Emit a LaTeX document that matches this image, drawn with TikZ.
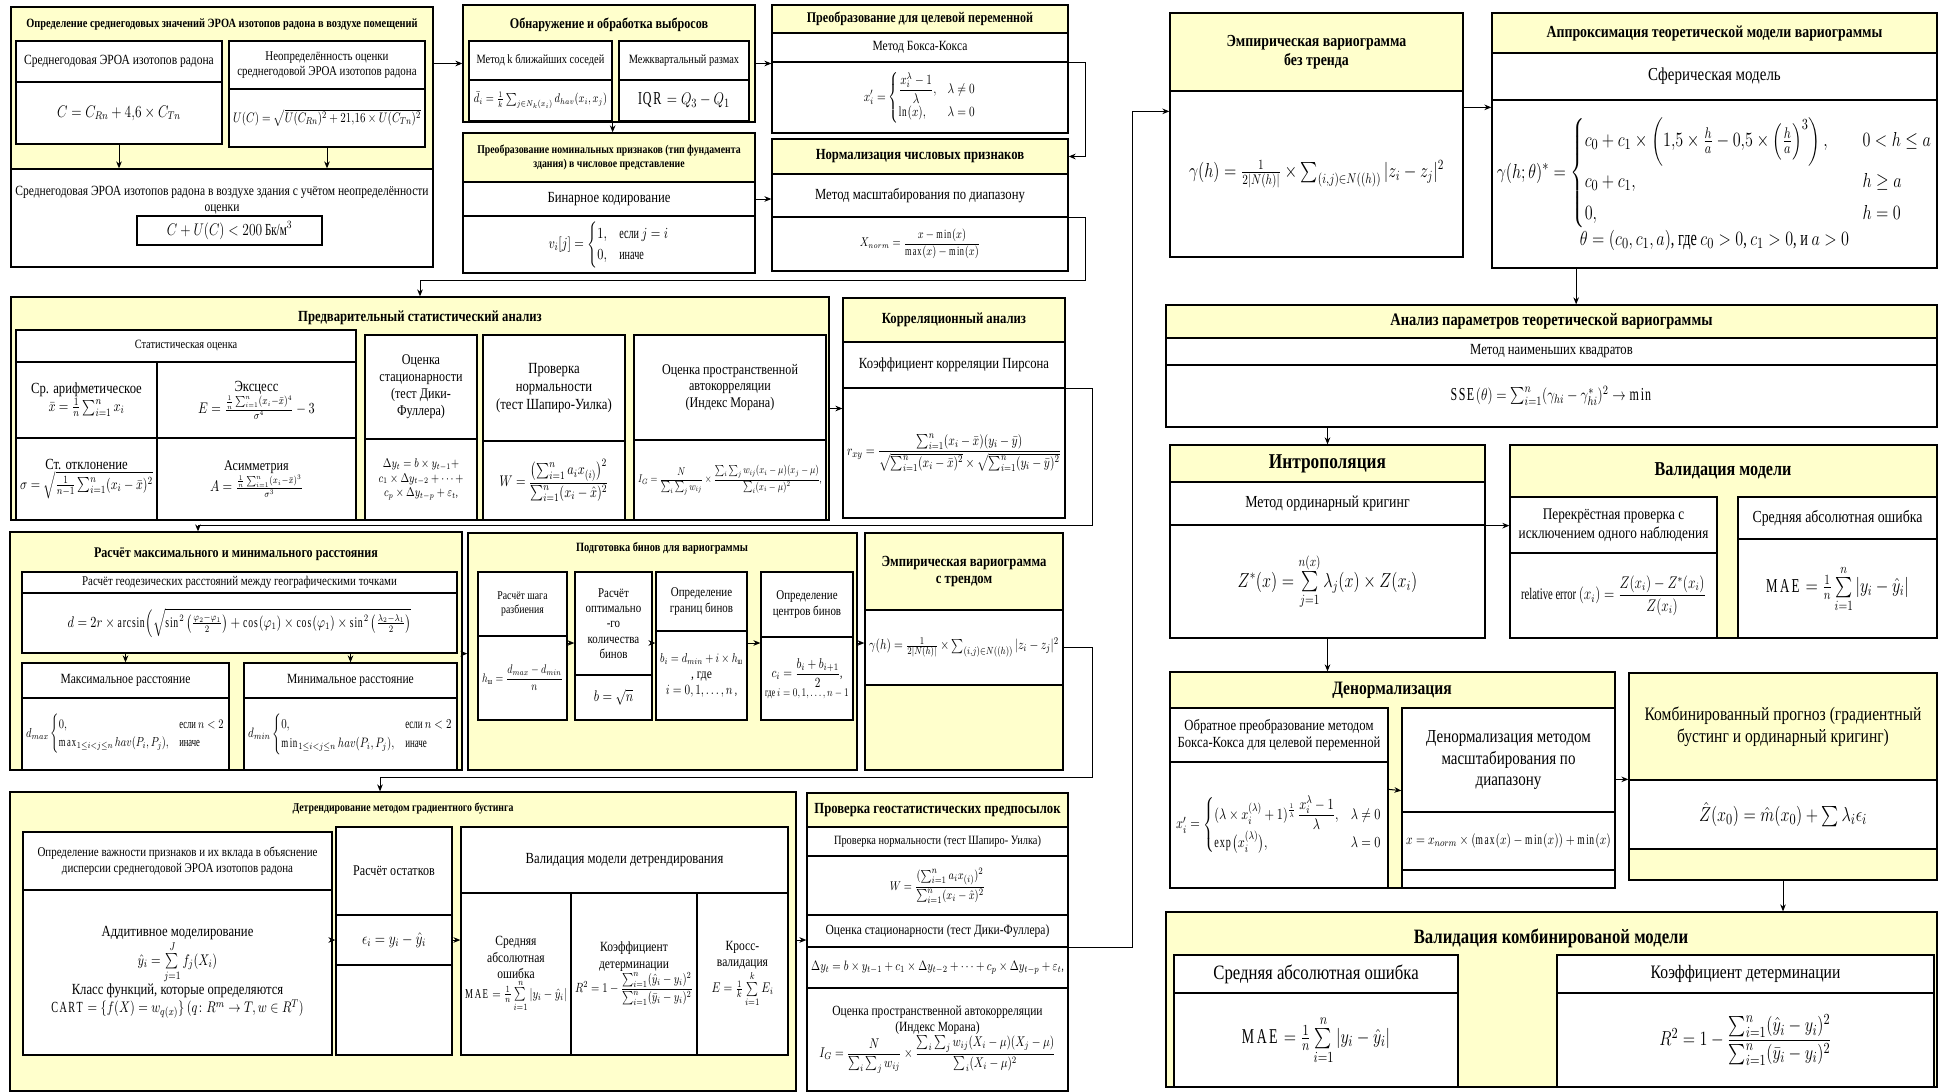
\documentclass[tikz,border=0pt]{standalone}
\usepackage{amsmath}
\usepackage{fontspec}
\setmainfont[FakeStretch=0.82]{Liberation Serif}
\usepackage{xcolor}
\usepackage{tikz}
\usetikzlibrary{arrows.meta, positioning, calc}

\definecolor{paneyellow}{HTML}{FFFFCC}
\newcommand{\fsz}[1]{\fontsize{#1}{\fpeval{1.15*#1}}\selectfont}
\relpenalty=10000
\binoppenalty=10000
% narrow a formula like the text face, then shrink it to the cell width if needed
\newsavebox{\fitbox}
\newcommand{\fitmath}[1]{\sbox\fitbox{\scalebox{0.8}[1]{#1}}\ifdim\wd\fitbox>\hsize\resizebox{\hsize}{!}{\usebox\fitbox}\else\usebox\fitbox\fi}

\tikzstyle{panelbox}  = [rectangle, draw=black, fill=paneyellow, line width=0.9pt, inner sep=0pt]
\tikzstyle{cellbox}   = [rectangle, draw=black, fill=white, line width=0.9pt, inner xsep=3pt, inner ysep=1pt, align=flush center]
\tikzstyle{headbox}   = [cellbox, fill=paneyellow]
\tikzstyle{titletext} = [align=center, inner sep=1pt]
\tikzstyle{arrow}     = [->, >={Stealth[length=5pt, width=4pt]}, line width=0.7pt]

% box from (x1,y1) to (x2,y2), layout pixels
\newcommand{\cellnode}[7]{%
  \pgfmathsetlengthmacro{\cellw}{(#5-#3)*0.25mm}%
  \pgfmathsetlengthmacro{\cellh}{(#6-#4)*0.25mm}%
  \pgfmathsetlengthmacro{\celltw}{(#5-#3)*0.25mm-6pt}%
  \node[#1, minimum width=\cellw, minimum height=\cellh, text width=\celltw] (#2) at ({(#3+#5)/2},{(#4+#6)/2}) {#7};%
}

\begin{document}
\begin{tikzpicture}[x=0.25mm, y=-0.25mm]
\useasboundingbox (0,0) rectangle (1944,1092);

% Annual average EEVA
\cellnode{panelbox}{avgpanel}{11}{7}{433}{169}{}
\node[titletext, font=\bfseries\fsz{9}] (avgttl) at (222,25) {Определение среднегодовых значений ЭРОА изотопов радона в воздухе помещений};
\cellnode{cellbox, font=\fsz{10}}{avgname}{16}{41}{222}{82}{Среднегодовая ЭРОА изотопов радона}
\cellnode{cellbox, font=\fsz{12}}{avgform}{16}{82}{222}{144}{\fitmath{$C = C_{Rn} + 4{,}6 \times C_{Tn}$}}
\cellnode{cellbox, font=\fsz{9.5}}{uncname}{229}{41}{425}{89}{Неопределённость оценки\\ среднегодовой ЭРОА изотопов радона}
\cellnode{cellbox, font=\fsz{11}}{uncform}{229}{89}{425}{147}{\fitmath{$U(C) = \sqrt{U(C_{Rn})^2 + 21{,}16\times U(C_{Tn})^2}$}}
\cellnode{cellbox}{bldg}{11}{169}{433}{267}{}
\node[titletext, font=\fsz{10}] (bldgtxt) at (222,200) {Среднегодовая ЭРОА изотопов радона в воздухе здания с учётом неопределённости\\ оценки};
\cellnode{cellbox, font=\fsz{12}}{limit}{137}{216}{322}{245}{\fitmath{$C + U(C) < 200~\text{Бк/м}^3$}}
\draw [arrow] (avgform) -- (avgform |- bldg.north);
\draw [arrow] (uncform) -- (uncform |- bldg.north);

% Outliers
\cellnode{panelbox}{outpanel}{463}{5}{755}{122}{}
\node[titletext, font=\bfseries\fsz{10.5}] (outttl) at (609,25) {Обнаружение и обработка выбросов};
\cellnode{cellbox, font=\fsz{9}}{knnname}{469}{41}{612}{80}{Метод k ближайших соседей}
\cellnode{cellbox, font=\fsz{9}}{knnform}{469}{80}{612}{121}{\fitmath{$\bar{d}_i = \frac{1}{k}\sum_{j\in N_k(x_i)} d_{hav}(x_i,x_j)$}}
\cellnode{cellbox, font=\fsz{9}}{iqrname}{619}{41}{749}{80}{Межквартальный размах}
\cellnode{cellbox, font=\fsz{13}}{iqrform}{619}{80}{749}{121}{\fitmath{$\mathrm{IQR} = Q_3 - Q_1$}}

% Nominal features
\cellnode{headbox, font=\bfseries\fsz{8.5}}{nomhdr}{463}{133}{755}{182}{Преобразование номинальных признаков (тип фундамента\\ здания) в числовое представление}
\cellnode{cellbox, font=\fsz{11}}{binname}{463}{182}{755}{216}{Бинарное кодирование}
\cellnode{cellbox, font=\fsz{11}}{binform}{463}{216}{755}{273}{\fitmath{$v_i[j] = \begin{cases}1, & \text{если } j=i\\ 0, & \text{иначе}\end{cases}$}}

% Target transform
\cellnode{headbox, font=\bfseries\fsz{10.5}}{bchdr}{772}{5}{1068}{33}{Преобразование для целевой переменной}
\cellnode{cellbox, font=\fsz{10}}{bcname}{772}{33}{1068}{62}{Метод Бокса-Кокса}
\cellnode{cellbox, font=\fsz{10}}{bcform}{772}{62}{1068}{133}{\fitmath{$x_i' = \begin{cases}\dfrac{x_i^{\lambda}-1}{\lambda}, & \lambda\neq 0\\ \ln(x), & \lambda=0\end{cases}$}}

% Normalization
\cellnode{headbox, font=\bfseries\fsz{11}}{normhdr}{772}{139}{1068}{174}{Нормализация числовых признаков}
\cellnode{cellbox, font=\fsz{11}}{normname}{772}{174}{1068}{217}{Метод масштабирования по диапазону}
\cellnode{cellbox, font=\fsz{9}}{normform}{772}{217}{1068}{271}{\fitmath{$X_{norm} = \dfrac{x-\min(x)}{\max(x)-\min(x)}$}}

% Preliminary statistics
\cellnode{panelbox}{statpanel}{11}{297}{829}{520}{}
\node[titletext, font=\bfseries\fsz{11}] (statttl) at (420,318) {Предварительный статистический анализ};
\cellnode{cellbox, font=\fsz{9}}{estname}{16}{330}{356}{362}{Статистическая оценка}
\cellnode{cellbox, font=\fsz{11}}{meanc}{16}{362}{157}{438}{Ср. арифметическое\\ \fitmath{$\bar{x} = \frac{1}{n}\sum_{i=1}^{n} x_i$}}
\cellnode{cellbox, font=\fsz{11}}{kurtc}{157}{362}{356}{438}{Эксцесс\\ \fitmath{$E = \frac{\frac{1}{n}\sum_{i=1}^{n}(x_i-\bar{x})^4}{\sigma^4} - 3$}}
\cellnode{cellbox, font=\fsz{11}}{stdc}{16}{438}{157}{520}{Ст. отклонение\\ \fitmath{$\sigma = \sqrt{\frac{1}{n-1}\sum_{i=1}^{n}(x_i-\bar{x})^2}$}}
\cellnode{cellbox, font=\fsz{10.5}}{skewc}{157}{438}{356}{520}{Асимметрия\\ \fitmath{$A = \frac{\frac{1}{n}\sum_{i=1}^{n}(x_i-\bar{x})^3}{\sigma^3}$}}
\cellnode{cellbox, font=\fsz{10.5}}{statname}{365}{335}{477}{439}{Оценка\\ стационарности\\ (тест Дики-\\ Фуллера)}
\cellnode{cellbox, font=\fsz{9}}{statform}{365}{439}{477}{520}{\fitmath{$\Delta y_t = b\times y_{t-1} +$}\\ \fitmath{$c_1\times\Delta y_{t-2}+\dots+$}\\ \fitmath{$c_p\times\Delta y_{t-p}+\varepsilon_t$,}}
\cellnode{cellbox, font=\fsz{11}}{normtname}{483}{335}{625}{441}{Проверка\\ нормальности\\ (тест Шапиро-Уилка)}
\cellnode{cellbox, font=\fsz{11}}{normtform}{483}{441}{625}{520}{\fitmath{$W = \dfrac{\left(\sum_{i=1}^{n} a_i x_{(i)}\right)^2}{\sum_{i=1}^{n}(x_i-\hat{x})^2}$}}
\cellnode{cellbox, font=\fsz{10.5}}{moranname}{634}{335}{826}{440}{Оценка пространственной\\ автокорреляции\\ (Индекс Морана)}
\cellnode{cellbox, font=\fsz{10}}{moranform}{634}{440}{826}{520}{\fitmath{$I_G = \dfrac{N}{\sum_i\sum_j w_{ij}}\times\dfrac{\sum_i\sum_j w_{ij}(x_i-\mu)(x_j-\mu)}{\sum_i(x_i-\mu)^2}$,}}

% Correlation
\cellnode{headbox, font=\bfseries\fsz{11}}{corrhdr}{843}{298}{1065}{342}{Корреляционный анализ}
\cellnode{cellbox, font=\fsz{11}}{corrname}{843}{342}{1065}{388}{Коэффициент корреляции Пирсона}
\cellnode{cellbox, font=\fsz{11}}{corrform}{843}{388}{1065}{518}{\fitmath{$r_{xy} = \dfrac{\sum_{i=1}^{n}(x_i-\bar{x})(y_i-\bar{y})}{\sqrt{\sum_{i=1}^{n}(x_i-\bar{x})^2}\times\sqrt{\sum_{i=1}^{n}(y_i-\bar{y})^2}}$}}

% Distances
\cellnode{panelbox}{distpanel}{10}{532}{462}{770}{}
\node[titletext, font=\bfseries\fsz{10.5}] (distttl) at (236,554) {Расчёт максимального и минимального расстояния};
\cellnode{cellbox, font=\fsz{9.5}}{geoname}{22}{572}{457}{593}{Расчёт геодезических расстояний между географическими точками}
\cellnode{cellbox, font=\fsz{10.5}}{geoform}{22}{593}{457}{653}{\fitmath{$d = 2r\times\arcsin\Bigl(\sqrt{\sin^2\left(\frac{\varphi_2-\varphi_1}{2}\right)+\cos(\varphi_1)\times\cos(\varphi_1)\times\sin^2\left(\frac{\lambda_2-\lambda_1}{2}\right)}$}}
\cellnode{cellbox, font=\fsz{10}}{maxname}{22}{663}{229}{698}{Максимальное расстояние}
\cellnode{cellbox, font=\fsz{10}}{maxform}{22}{698}{229}{770}{\fitmath{$d_{max}\begin{cases}0, & \text{если } n<2\\ \max_{1\le i<j\le n} hav(P_i,P_j), & \text{иначе}\end{cases}$}}
\cellnode{cellbox, font=\fsz{10}}{minname}{244}{663}{457}{698}{Минимальное расстояние}
\cellnode{cellbox, font=\fsz{10}}{minform}{244}{698}{457}{770}{\fitmath{$d_{min}\begin{cases}0, & \text{если } n<2\\ \min_{1\le i<j\le n} hav(P_i,P_j), & \text{иначе}\end{cases}$}}
\draw [arrow] (maxname.north |- geoform.south) -- (maxname.north);
\draw [arrow] (minname.north |- geoform.south) -- (minname.north);

% Bins
\cellnode{panelbox}{binspanel}{468}{533}{857}{770}{}
\node[titletext, font=\bfseries\fsz{9}] (binsttl) at (662,548) {Подготовка бинов для вариограммы};
\cellnode{cellbox, font=\fsz{8.5}}{stepname}{478}{572}{567}{636}{Расчёт шага\\ разбиения}
\cellnode{cellbox, font=\fsz{10}}{stepform}{478}{636}{567}{720}{\fitmath{$h_{\text{ш}} = \dfrac{d_{max}-d_{min}}{n}$}}
\cellnode{cellbox, font=\fsz{9.5}}{cntname}{575}{572}{652}{675}{Расчёт\\ оптимально\\ -го\\ количества\\ бинов}
\cellnode{cellbox, font=\fsz{11}}{cntform}{575}{675}{652}{720}{\fitmath{$b=\sqrt{n}$}}
\cellnode{cellbox, font=\fsz{9.5}}{edgename}{656}{572}{747}{631}{Определение\\ границ бинов}
\cellnode{cellbox, font=\fsz{10}}{edgeform}{656}{631}{747}{720}{\fitmath{$b_i = d_{min} + i\times h_{\text{ш}}$}\\ , где\\ \fitmath{$i = 0, 1,\dots,n$ ,}}
\cellnode{cellbox, font=\fsz{9.5}}{ctrname}{761}{572}{853}{637}{Определение\\ центров бинов}
\cellnode{cellbox, font=\fsz{10}}{ctrform}{761}{637}{853}{720}{\fitmath{$c_i = \dfrac{b_i + b_{i+1}}{2}$,}\\ \fitmath{где $i = 0,1,\dots,n-1$}}
\coordinate (binrow) at (0,643);
\draw [arrow] (stepform.east |- binrow) -- (cntname.west |- binrow);
\draw [arrow] (cntname.east |- binrow) -- (edgeform.west |- binrow);
\draw [arrow] (edgeform.east |- binrow) -- (ctrform.west |- binrow);

% Empirical variogram with trend
\cellnode{panelbox}{trendpanel}{865}{533}{1063}{770}{}
\cellnode{headbox, font=\bfseries\fsz{11}}{trendhdr}{865}{533}{1063}{610}{Эмпирическая вариограмма\\ с трендом}
\cellnode{cellbox, font=\fsz{11}}{trendform}{865}{610}{1063}{685}{\fitmath{$\gamma(h) = \frac{1}{2|N(h)|}\times\sum_{(i,j)\in N((h))}|z_i-z_j|^2$}}

% Detrending
\cellnode{panelbox}{detpanel}{10}{792}{796}{1091}{}
\node[titletext, font=\bfseries\fsz{8.5}] (detttl) at (403,809) {Детрендирование методом градиентного бустинга};
\cellnode{cellbox, font=\fsz{9.5}}{featname}{23}{832}{332}{890}{Определение важности признаков и их вклада в объяснение\\ дисперсии среднегодовой ЭРОА изотопов радона}
\cellnode{cellbox, font=\fsz{11}}{featform}{23}{890}{332}{1055}{Аддитивное моделирование\\ \fitmath{$\hat{y}_i = \sum\limits_{j=1}^{J} f_j(X_i)$}\\ Класс функций, которые определяются\\ \fitmath{$\mathrm{CART} = \{f(X) = w_{q(x)}\}\ (q\colon R^m\to T, w\in R^T)$}}
\cellnode{cellbox, font=\fsz{10.5}}{resname}{336}{827}{452}{915}{Расчёт остатков}
\cellnode{cellbox, font=\fsz{12}}{resform}{336}{915}{452}{965}{\fitmath{$\epsilon_i = y_i - \hat{y}_i$}}
\cellnode{cellbox}{resfoot}{336}{965}{452}{1055}{}
\cellnode{cellbox, font=\fsz{11}}{valname}{461}{827}{788}{893}{Валидация модели детрендирования}
\cellnode{cellbox, font=\fsz{10}}{maec}{461}{893}{571}{1055}{Средняя\\ абсолютная\\ ошибка\\ \fitmath{$\mathrm{MAE} = \frac{1}{n}\sum\limits_{i=1}^{n}|y_i-\hat{y}_i|$}}
\cellnode{cellbox, font=\fsz{10}}{r2c}{571}{893}{697}{1055}{Коэффициент\\ детерминации\\ \fitmath{$R^2 = 1-\dfrac{\sum_{i=1}^{n}(\hat{y}_i-y_i)^2}{\sum_{i=1}^{n}(\bar{y}_i-y_i)^2}$}}
\cellnode{cellbox, font=\fsz{10}}{cvc}{697}{893}{788}{1055}{Кросс-\\ валидация\\ \fitmath{$E = \frac{1}{k}\sum\limits_{i=1}^{k}E_i$}}
\draw [arrow] (resform.west -| featform.east) -- (resform.west);
\draw [arrow] (resform.east) -- (resform.east -| maec.west);

% Geostatistical assumptions
\cellnode{headbox, font=\bfseries\fsz{11}}{geohdr}{807}{793}{1068}{827}{Проверка геостатистических предпосылок}
\cellnode{cellbox, font=\fsz{9}}{swname}{807}{827}{1068}{856}{Проверка нормальности (тест Шапиро- Уилка)}
\cellnode{cellbox, font=\fsz{9.5}}{swform}{807}{856}{1068}{915}{\fitmath{$W = \dfrac{(\sum_{i=1}^{n} a_i x_{(i)})^2}{\sum_{i=1}^{n}(x_i-\hat{x})^2}$}}
\cellnode{cellbox, font=\fsz{10}}{dfname}{807}{915}{1068}{947}{Оценка стационарности (тест Дики-Фуллера)}
\cellnode{cellbox, font=\fsz{10}}{dfform}{807}{947}{1068}{988}{\fitmath{$\Delta y_t = b\times y_{t-1} + c_1\times\Delta y_{t-2}+\dots+c_p\times\Delta y_{t-p}+\varepsilon_t$,}}
\cellnode{cellbox, font=\fsz{10}}{mgname}{807}{988}{1068}{1091}{Оценка пространственной автокорреляции\\ (Индекс Морана)\\ \fitmath{$I_G = \dfrac{N}{\sum_i\sum_j w_{ij}}\times\dfrac{\sum_i\sum_j w_{ij}(X_i-\mu)(X_j-\mu)}{\sum_i(X_i-\mu)^2}$}}

% Empirical variogram without trend
\cellnode{headbox, font=\bfseries\fsz{12}}{nvarhdr}{1170}{13}{1463}{91}{Эмпирическая вариограмма\\ без тренда}
\cellnode{cellbox, font=\fsz{14}}{nvarform}{1170}{91}{1463}{257}{\fitmath{$\gamma(h) = \frac{1}{2|N(h)|}\times\sum_{(i,j)\in N((h))}|z_i-z_j|^2$}}

% Theoretical model
\cellnode{headbox, font=\bfseries\fsz{12}}{aprhdr}{1492}{13}{1937}{53}{Аппроксимация теоретической модели вариограммы}
\cellnode{cellbox, font=\fsz{13}}{aprname}{1492}{53}{1937}{100}{Сферическая модель}
\cellnode{cellbox, font=\fsz{15.5}}{aprform}{1492}{100}{1937}{268}{\fitmath{$\gamma(h;\theta)^* = \begin{cases} c_0+c_1\times\left(1{,}5\times\frac{h}{a}-0{,}5\times\left(\frac{h}{a}\right)^3\right), & \quad 0<h\le a\\[2pt] c_0+c_1, & \quad h\ge a\\[2pt] 0, & \quad h=0\end{cases}$}\\ \fitmath{$\theta = (c_0, c_1, a)$, где $c_0>0$, $c_1>0$, и $a>0$}}

% Parameters
\cellnode{headbox, font=\bfseries\fsz{12.5}}{parhdr}{1166}{305}{1937}{338}{Анализ параметров теоретической вариограммы}
\cellnode{cellbox, font=\fsz{11}}{parname}{1166}{338}{1937}{365}{Метод наименьших квадратов}
\cellnode{cellbox, font=\fsz{13}}{parform}{1166}{365}{1937}{427}{\fitmath{$\mathrm{SSE}(\theta) = \sum_{i=1}^{n}(\gamma_{hi}-\gamma^*_{hi})^2\to\min$}}

% Interpolation
\cellnode{headbox, font=\bfseries\fsz{15}}{inthdr}{1170}{445}{1485}{482}{Интрополяция}
\cellnode{cellbox, font=\fsz{12}}{intname}{1170}{482}{1485}{525}{Метод ординарный кригинг}
\cellnode{cellbox, font=\fsz{14}}{intform}{1170}{525}{1485}{638}{\fitmath{$Z^*(x) = \sum\limits_{j=1}^{n(x)}\lambda_j(x)\times Z(x_i)$}}

% Model validation
\cellnode{panelbox}{valpanel}{1510}{445}{1937}{638}{}
\node[titletext, font=\bfseries\fsz{14}] (valttl) at (1723,471) {Валидация модели};
\cellnode{cellbox, font=\fsz{11.5}}{cvname}{1510}{497}{1717}{553}{Перекрёстная проверка с\\ исключением одного наблюдения}
\cellnode{cellbox, font=\fsz{11.5}}{cvform}{1510}{553}{1717}{638}{\fitmath{relative error $(x_i) = \dfrac{Z(x_i)-Z^*(x_i)}{Z(x_i)}$}}
\cellnode{cellbox, font=\fsz{12}}{vmaename}{1738}{497}{1937}{539}{Средняя абсолютная ошибка}
\cellnode{cellbox, font=\fsz{14}}{vmaeform}{1738}{539}{1937}{638}{\fitmath{$\mathrm{MAE} = \frac{1}{n}\sum\limits_{i=1}^{n}|y_i-\hat{y}_i|$}}

% Denormalization
\cellnode{panelbox}{denpanel}{1170}{672}{1615}{888}{}
\node[titletext, font=\bfseries\fsz{13.5}] (denttl) at (1392,690) {Денормализация};
\cellnode{cellbox, font=\fsz{11}}{ibcname}{1170}{708}{1388}{762}{Обратное преобразование методом\\ Бокса-Кокса для целевой переменной}
\cellnode{cellbox, font=\fsz{11}}{ibcform}{1170}{762}{1388}{888}{\fitmath{$x_i' = \begin{cases}(\lambda\times x_i^{(\lambda)}+1)^{\frac{1}{\lambda}}\,\dfrac{x_i^{\lambda}-1}{\lambda}, & \lambda\neq 0\\[4pt] \exp\bigl(x_i^{(\lambda)}\bigr), & \lambda=0\end{cases}$}}
\cellnode{cellbox, font=\fsz{13}}{drname}{1402}{708}{1615}{812}{Денормализация методом\\ масштабирования по\\ диапазону}
\cellnode{cellbox, font=\fsz{11}}{drform}{1402}{812}{1615}{870}{\fitmath{$x = x_{norm}\times(\max(x)-\min(x))+\min(x)$}}
\cellnode{cellbox}{drfoot}{1402}{870}{1615}{888}{}

% Combined forecast
\cellnode{panelbox}{combpanel}{1629}{673}{1937}{880}{}
\cellnode{headbox, font=\fsz{13.5}}{combhdr}{1629}{673}{1937}{780}{Комбинированный прогноз (градиентный\\ бустинг и ординарный кригинг)}
\cellnode{cellbox, font=\fsz{15}}{combform}{1629}{780}{1937}{849}{\fitmath{$\hat{Z}(x_0) = \hat{m}(x_0) + \sum\lambda_i\epsilon_i$}}

% Combined validation
\cellnode{panelbox}{cvalpanel}{1166}{912}{1937}{1087}{}
\node[titletext, font=\bfseries\fsz{14.5}] (cvalttl) at (1551,938) {Валидация комбинированой модели};
\cellnode{cellbox, font=\fsz{14.5}}{cmaename}{1174}{955}{1458}{993}{Средняя абсолютная ошибка}
\cellnode{cellbox, font=\fsz{15}}{cmaeform}{1174}{993}{1458}{1087}{\fitmath{$\mathrm{MAE} = \frac{1}{n}\sum\limits_{i=1}^{n}|y_i-\hat{y}_i|$}}
\cellnode{cellbox, font=\fsz{13.5}}{cr2name}{1557}{955}{1934}{993}{Коэффициент детерминации}
\cellnode{cellbox, font=\fsz{15}}{cr2form}{1557}{993}{1934}{1087}{\fitmath{$R^2 = 1-\dfrac{\sum_{i=1}^{n}(\hat{y}_i-y_i)^2}{\sum_{i=1}^{n}(\bar{y}_i-y_i)^2}$}}

% Main flow, left half
\draw [arrow] (outpanel.west -| avgpanel.east) -- (outpanel.west);
\draw [arrow] (outpanel.south -| knnform.east) -- (nomhdr.north -| knnform.east);
\draw [arrow] (outpanel.east) -- (outpanel.east -| bchdr.west);
\draw [arrow] (binname.east) -- (binname.east -| normname.west);
\draw [arrow] (bcname.south east) -- ++(17,0) |- (normhdr.east);
\draw [arrow] (normname.south east) -- ++(17,0) |- ($(statpanel.north)+(0,-16)$) -- (statpanel.north);
\draw [arrow] (statpanel.east) -- (statpanel.east -| corrform.west);
\coordinate (distin) at (198,525);
\draw [arrow] (corrname.south east) -- ++(27,0) |- (distin) -- (distin |- distpanel.north);
\draw [arrow] (distpanel.east |- geoform.south) -- (binspanel.west |- geoform.south);
\draw [arrow] (binspanel.east |- binrow) -- (trendform.west |- binrow);
\coordinate (detin) at (380,777);
\draw [arrow] (trendform.east) -- ++(29,0) |- (detin) -- (detin |- detpanel.north);
\draw [arrow] (detpanel.east |- resform) -- (resform -| geohdr.west);

% Right half
\coordinate (nvarin) at ($(nvarform.north west)+(0,21)$);
\draw [arrow] (dfname.south east) -- ++(64,0) |- (nvarin);
\draw [arrow] ($(nvarform.north east)+(0,17)$) -- ($(aprform.north west)+(0,8)$);
\coordinate (aprout) at ($(aprform.south west)!0.19!(aprform.south east)$);
\draw [arrow] (aprout) -- (aprout |- parhdr.north);
\draw [arrow] (parform.south -| inthdr.north) -- (inthdr.north);
\draw [arrow] (intname.south east) -- (intname.south east -| cvname.west);
\draw [arrow] (intform.south) -- (intform.south |- denpanel.north);
\draw [arrow] ($(ibcform.north east)+(0,28)$) -- ($(drname.south west)+(0,-22)$);
\draw [arrow] (denpanel.east |- combform.north) -- (combform.north west);
\draw [arrow] (combpanel.south) -- (combpanel.south |- cvalpanel.north);

\end{tikzpicture}
\end{document}
